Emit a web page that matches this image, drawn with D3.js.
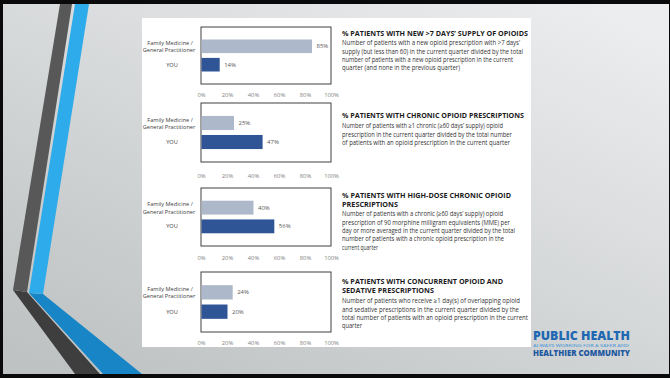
<!DOCTYPE html>
<html><head><meta charset="utf-8">
<script src="https://cdn.jsdelivr.net/npm/d3@7/dist/d3.min.js"></script>
<style>html,body{margin:0;padding:0;background:#000;}svg{display:block;}</style>
</head><body>
<script>
// ---------- DATA ----------
const categories = ["Family Medicine / General Practitioner", "YOU"];
const fmValues  = [85, 25, 40, 24];
const youValues = [14, 47, 56, 20];
const tickValues = [0, 20, 40, 60, 80, 100];
const titleLines = [
  ["% PATIENTS WITH NEW >7 DAYS’ SUPPLY OF OPIOIDS"],
  ["% PATIENTS WITH CHRONIC OPIOID PRESCRIPTIONS"],
  ["% PATIENTS WITH HIGH-DOSE CHRONIC OPIOID", "PRESCRIPTIONS"],
  ["% PATIENTS WITH CONCURRENT OPIOID AND", "SEDATIVE PRESCRIPTIONS"]
];
const bodyLines = [
  ["Number of patients with a new opioid prescription with >7 days’",
   "supply (but less than 60) in the current quarter divided by the total",
   "number of patients with a new opioid prescription in the current",
   "quarter (and none in the previous quarter)"],
  ["Number of patients with ≥1 chronic (≥60 days’ supply) opioid",
   "prescription in the current quarter divided by the total number",
   "of patients with an opioid prescription in the current quarter"],
  ["Number of patients with a chronic (≥60 days’ supply) opioid",
   "prescription of 90 morphine milligram equivalents (MME) per",
   "day or more averaged in the current quarter divided by the total",
   "number of patients with a chronic opioid prescription in the",
   "current quarter"],
  ["Number of patients who receive ≥1 day(s) of overlapping opioid",
   "and sedative prescriptions in the current quarter divided by the",
   "total number of patients with an opioid prescription in the current",
   "quarter"]
];
const logoLines = ["PUBLIC HEALTH", "ALWAYS WORKING FOR A SAFER AND", "HEALTHIER COMMUNITY"];

// ---------- LAYOUT ----------
const W = 670, H = 378;
const boxes = [[27, 84], [103, 162], [188, 246], [272, 332]];
const axisY = [95, 176, 258, 343];
const titleY = [33, 115, 195, 281];
const titleW = [[186], [182], [169, 56], [161, 92]];
const bodyY = [43, 126, 214, 301];
const bodyW = [[178, 181, 171, 118], [161, 170, 168], [161, 168, 173, 162, 36], [178, 177, 186, 20]];
const FONT = "'Open Sans','Liberation Sans',sans-serif";

const svg = d3.select("body").append("svg").attr("width", W).attr("height", H)
  .style("font-family", FONT);

const defs = svg.append("defs");
const g = defs.append("linearGradient").attr("id", "bg")
  .attr("x1", 0.9).attr("y1", 0).attr("x2", 0.1).attr("y2", 1);
g.append("stop").attr("offset", "0%").attr("stop-color", "#ecedee");
g.append("stop").attr("offset", "100%").attr("stop-color", "#bec2c3");

svg.append("rect").attr("width", W).attr("height", H).attr("fill", "#0a0a0a");
svg.append("rect").attr("x", 3).attr("y", 4).attr("width", W - 4).attr("height", H - 8).attr("fill", "url(#bg)");

// decorative stripes
const stripes = [
  {pts: [[13,290],[27,292],[100,374],[75,374]], c: "#3e3e3e"},
  {pts: [[29,293],[43,294],[142,374],[103,374]], c: "#1785c6"},
  {pts: [[60,4],[72,4],[27,292],[13,290]], c: "#585858"},
  {pts: [[75,4],[89,4],[43,294],[29,293]], c: "#2eabea"}
];
svg.selectAll("polygon.stripe").data(stripes).join("polygon")
  .attr("points", d => d.pts.map(p => p.join(",")).join(" "))
  .attr("fill", d => d.c);

// white panel
svg.append("rect").attr("x", 142).attr("y", 18).attr("width", 389).attr("height", 329).attr("fill", "#ffffff");

function fit(sel, w) { sel.attr("textLength", w).attr("lengthAdjust", "spacingAndGlyphs"); }

const x = d3.scaleLinear().domain([0, 100]).range([201, 331]);

fmValues.forEach((fm, i) => {
  const vals = [fm, youValues[i]];
  const [y0, y1] = boxes[i];
  const y = d3.scaleBand().domain(categories).range([y0, y1]).paddingInner(0.26).paddingOuter(0.68);
  const chart = svg.append("g");

  chart.append("rect").attr("x", x(0)).attr("y", y0).attr("width", x(100) - x(0)).attr("height", y1 - y0)
    .attr("fill", "none").attr("stroke", "#404040").attr("stroke-width", 1);

  chart.selectAll("rect.bar").data(categories).join("rect").attr("class", "bar")
    .attr("x", x(0) + 0.5).attr("y", d => y(d))
    .attr("width", (d, k) => x(vals[k]) - x(0)).attr("height", y.bandwidth())
    .attr("fill", (d, k) => k === 0 ? "#adb9ca" : "#2f5597");

  chart.selectAll("text.val").data(categories).join("text").attr("class", "val")
    .attr("x", (d, k) => x(vals[k]) + 5).attr("y", d => y(d) + y.bandwidth() / 2)
    .attr("dy", "0.35em").attr("font-size", 6).attr("fill", "#595959")
    .text((d, k) => vals[k] + "%");

  // category labels
  const fmC = y(categories[0]) + y.bandwidth() / 2;
  const lab = chart.append("text").attr("text-anchor", "middle").attr("font-size", 5.6).attr("fill", "#404040");
  lab.append("tspan").attr("x", 170).attr("y", fmC - 3.3).attr("dy", "0.35em").text("Family Medicine /");
  lab.append("tspan").attr("x", 169).attr("y", fmC + 3.9).attr("dy", "0.35em").text("General Practitioner");
  chart.append("text").attr("text-anchor", "middle").attr("font-size", 5.6).attr("fill", "#404040")
    .attr("x", 172).attr("y", y(categories[1]) + y.bandwidth() / 2).attr("dy", "0.35em").text("YOU");

  // x axis
  const ax = chart.append("g").attr("transform", `translate(0,${axisY[i] - 3})`)
    .call(d3.axisBottom(x).tickValues(tickValues).tickSize(0).tickFormat(d => d + "%"));
  ax.select(".domain").remove();
  ax.selectAll("text").attr("font-size", 5.8).attr("fill", "#7f7f7f").attr("font-family", FONT).attr("dy", "0.35em").attr("y", 3);

  // titles
  titleLines[i].forEach((t, j) => {
    chart.append("text").attr("x", 342).attr("y", titleY[i] + j * 9).attr("dy", "0.35em")
      .attr("font-size", 7.6).attr("font-weight", 700).attr("fill", "#1a1a1a")
      .text(t).call(fit, titleW[i][j]);
  });
  bodyLines[i].forEach((t, j) => {
    chart.append("text").attr("x", 342).attr("y", bodyY[i] + j * 8.4).attr("dy", "0.35em")
      .attr("font-size", 6.4).attr("fill", "#333333")
      .text(t).call(fit, bodyW[i][j]);
  });
});

// logo
svg.append("text").attr("x", 533).attr("y", 339.6).attr("font-size", 11.5).attr("font-weight", 800)
  .attr("fill", "#2068b2").text(logoLines[0]).call(fit, 97);
svg.append("text").attr("x", 533).attr("y", 346.8).attr("font-size", 3.2).attr("font-weight", 600)
  .attr("fill", "#5a9fd8").text(logoLines[1]).call(fit, 96);
svg.append("text").attr("x", 533).attr("y", 355.6).attr("font-size", 8.4).attr("font-weight", 800)
  .attr("fill", "#1d58a0").text(logoLines[2]).call(fit, 97);
</script>
</body></html>
